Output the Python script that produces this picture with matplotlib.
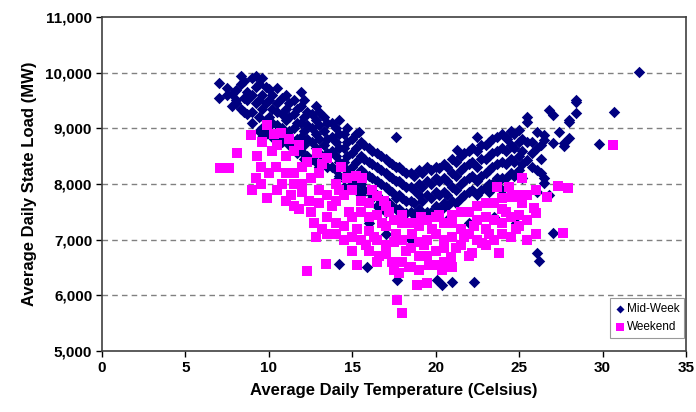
import matplotlib.pyplot as plt
from matplotlib.ticker import FuncFormatter

plt.rcParams['font.family'] = ['Liberation Sans', 'DejaVu Sans']

# values (temperature in C, load in MW)
midweek_temp = [
    7.0, 7.0, 7.5, 7.5, 8.0, 8.0, 8.0, 8.3, 8.3, 8.3, 8.7, 8.7, 8.7,
    9.0, 9.0, 9.0, 9.0, 9.2, 9.2, 9.2, 9.6, 9.6, 9.6, 9.6, 9.6,
    10.0, 10.0, 10.0, 10.0, 10.5, 10.5, 10.5, 10.5, 10.5,
    11.0, 11.0, 11.0, 11.0, 11.5, 11.5, 11.5, 11.5, 11.9, 11.9, 11.9, 11.9, 11.9,
    12.3, 12.3, 12.3, 12.3, 12.8, 12.8, 12.8, 12.8, 12.8,
    13.3, 13.3, 13.3, 13.3, 13.8, 13.8, 13.8, 13.8,
    14.2, 14.2, 14.2, 14.2, 14.2, 14.7, 14.7, 14.7, 14.7,
    15.2, 15.2, 15.2, 15.2, 15.2, 15.4, 15.7, 15.7, 15.7, 15.7,
    16.2, 16.2, 16.2, 16.2, 16.7, 16.7, 16.7, 16.7, 16.7,
    17.2, 17.2, 17.2, 17.2, 17.6, 17.6, 17.6, 17.6, 17.6,
    18.0, 18.0, 18.0, 18.0, 18.5, 18.5, 18.5, 18.5,
    19.0, 19.0, 19.0, 19.0, 19.5, 19.5, 19.5, 19.5,
    20.0, 20.0, 20.0, 20.0, 20.5, 20.5, 20.5, 20.5,
    21.0, 21.0, 21.0, 21.0, 21.3, 21.5, 21.5, 21.5, 21.5,
    22.0, 22.0, 22.0, 22.0, 22.5, 22.5, 22.5, 22.5, 22.5,
    23.0, 23.0, 23.0, 23.0, 23.4, 23.4, 23.4, 23.4,
    24.0, 24.0, 24.0, 24.0, 24.0, 24.3, 24.5, 24.5, 24.5, 24.5,
    25.0, 25.0, 25.0, 25.0, 25.5, 25.5, 25.5, 25.5,
    26.1, 26.1, 26.1, 26.1, 26.5, 26.5, 26.5, 26.5, 26.8, 26.8,
    27.0, 27.0, 27.4, 27.7, 27.7, 28.0, 28.0, 28.0, 28.4, 28.4, 28.4,
    29.8, 30.7, 32.2,
    14.2, 15.9, 17.7, 20.1, 20.4, 21.0, 22.3, 26.1, 26.2, 27.0,
    16.0, 17.0, 18.5, 22.0, 23.5, 24.8, 20.3, 20.7,
    7.8, 7.8, 8.5, 8.5, 8.5, 9.4, 9.4, 9.4, 9.4, 9.8, 9.8, 9.8, 9.8,
    10.2, 10.2, 10.2, 10.2, 10.8, 10.8, 10.8, 10.8, 11.2, 11.2, 11.2, 11.2,
    11.7, 11.7, 11.7, 11.7, 12.1, 12.1, 12.1, 12.1, 12.1,
    12.6, 12.6, 12.6, 12.6, 13.0, 13.0, 13.0, 13.0, 13.0,
    13.5, 13.5, 13.5, 13.5, 14.0, 14.0, 14.0, 14.0, 14.0,
    14.5, 14.5, 14.5, 14.5, 14.5, 15.0, 15.0, 15.0, 15.0,
    15.5, 15.5, 15.5, 15.5, 15.5, 16.0, 16.0, 16.0, 16.0, 16.0,
    16.5, 16.5, 16.5, 16.5, 16.5, 17.0, 17.0, 17.0, 17.0, 17.0,
    17.4, 17.4, 17.4, 17.4, 17.8, 17.8, 17.8, 17.8,
    18.2, 18.2, 18.2, 18.2, 18.7, 18.7, 18.7, 18.7,
    19.2, 19.2, 19.2, 19.2, 19.7, 19.7, 19.7, 19.7,
    20.2, 20.2, 20.2, 20.2, 20.7, 20.7, 20.7, 20.7,
    21.2, 21.2, 21.2, 21.2, 21.7, 21.7, 21.7, 21.7,
    22.2, 22.2, 22.2, 22.2, 22.7, 22.7, 22.7, 22.7,
    23.2, 23.2, 23.2, 23.2, 23.2, 23.7, 23.7, 23.7, 23.7,
    24.2, 24.2, 24.2, 24.2, 24.7, 24.7, 24.7, 24.7,
    25.2, 25.2, 25.2, 25.2, 25.8, 25.8, 25.8, 26.3, 26.3, 26.3,
]
midweek_load = [
    9820, 9550, 9730, 9600, 9500, 9680, 9450, 9940, 9800, 9350, 9650, 9500, 9250,
    9900, 9600, 9300, 9100, 9940, 9750, 9450, 9900, 9600, 9350, 9000, 8850,
    9700, 9500, 9200, 8950, 9730, 9450, 9300, 9050, 8800,
    9600, 9350, 9150, 8900, 9500, 9250, 9000, 8750, 9650, 9400, 9100, 8850, 8600,
    9300, 9050, 8800, 8500, 9400, 9150, 8900, 8650, 8400,
    9200, 8950, 8700, 8450, 9100, 8850, 8600, 8300,
    9150, 8900, 8650, 8400, 8150, 9000, 8750, 8500, 8250,
    8900, 8650, 8400, 8100, 7900, 8930, 8700, 8450, 8200, 7900,
    8600, 8350, 8100, 7800, 8500, 8250, 8000, 7700, 7550,
    8400, 8150, 7900, 7650, 8850, 8300, 8050, 7750, 7550,
    8250, 8000, 7750, 7500, 8200, 7950, 7700, 7500,
    8250, 8000, 7800, 7550, 8300, 8050, 7800, 7500,
    8300, 8100, 7850, 7600, 8350, 8100, 7850, 7650,
    8450, 8200, 7950, 7700, 8610, 8500, 8250, 8000, 7750,
    8600, 8350, 8100, 7850, 8850, 8600, 8300, 8050, 7800,
    8700, 8450, 8200, 7950, 8800, 8550, 8300, 8000,
    8900, 8650, 8400, 8100, 7900, 8800, 8950, 8700, 8450, 8200,
    8970, 8750, 8500, 8250, 9200, 9110, 8750, 8430,
    8930, 8650, 8250, 7860, 8880, 8790, 8110, 8020, 9330, 7800,
    9240, 8740, 8930, 8680, 8740, 9150, 8830, 9110, 9280, 9470, 9510,
    8720, 9300, 10010,
    6560, 6500, 6280, 6280, 6180, 6240, 6240, 6760, 6620, 7120,
    7300, 7100, 7000, 7300, 7400, 7300, 7530, 7350,
    9620, 9400, 9850, 9550, 9300, 9800, 9500, 9200, 8950, 9750, 9450, 9150, 8900,
    9600, 9350, 9100, 8850, 9550, 9250, 9000, 8750, 9450, 9200, 8950, 8700,
    9350, 9100, 8800, 8550, 9500, 9200, 8950, 8700, 8450,
    9250, 9000, 8750, 8450, 9300, 9050, 8800, 8550, 8300,
    9100, 8800, 8550, 8300, 9000, 8750, 8500, 8250, 8050,
    8900, 8650, 8400, 8150, 7950, 8800, 8550, 8300, 8000,
    8750, 8500, 8250, 8000, 7800, 8650, 8400, 8150, 7900, 7700,
    8550, 8300, 8050, 7800, 7600, 8450, 8200, 7950, 7700, 7500,
    8350, 8100, 7850, 7600, 8300, 8050, 7800, 7550,
    8200, 7950, 7700, 7480, 8150, 7900, 7650, 7450,
    8200, 7950, 7700, 7480, 8250, 8000, 7750, 7500,
    8280, 8050, 7800, 7550, 8300, 8050, 7800, 7600,
    8400, 8150, 7900, 7650, 8550, 8300, 8050, 7800,
    8650, 8400, 8150, 7900, 8700, 8450, 8150, 7900,
    8750, 8500, 8250, 8000, 7850, 8850, 8600, 8350, 8100,
    8850, 8600, 8350, 8100, 8900, 8650, 8400, 8150,
    8800, 8600, 8350, 8100, 8750, 8550, 8300, 8700, 8450, 8200,
]

weekend_temp = [
    7.1, 7.6, 8.1, 8.9, 9.0, 9.2, 9.3, 9.6, 9.9, 9.9, 10.2, 10.4, 10.7, 10.8,
    11.0, 11.3, 11.5, 11.8, 12.0, 12.3, 12.4, 12.7, 12.8, 12.9, 13.0, 13.2,
    13.4, 13.5, 13.5, 13.8, 14.0, 14.2, 14.5, 14.7, 14.8, 15.0, 15.3, 15.3,
    15.5, 15.6, 15.8, 16.0, 16.3, 16.5, 16.6, 16.8, 17.0, 17.2, 17.4, 17.6,
    17.7, 17.8, 18.0, 18.0, 18.2, 18.4, 18.6, 18.9, 19.0, 19.1, 19.3, 19.5,
    19.6, 19.8, 20.0, 20.2, 20.4, 20.5, 20.9, 21.0, 21.2, 21.5, 21.7, 22.0,
    22.2, 22.3, 22.5, 22.8, 23.0, 23.2, 23.5, 23.7, 23.8, 24.0, 24.2, 24.4,
    24.6, 24.8, 25.0, 25.2, 25.2, 25.5, 25.9, 26.0, 26.0, 26.7, 27.3, 27.6,
    27.9, 30.6,
    9.5, 9.5, 10.0, 10.5, 10.5, 11.0, 11.0, 11.5, 11.5, 11.5, 12.0, 12.0,
    12.5, 12.5, 13.0, 13.0, 13.5, 13.5, 14.0, 14.0, 14.0, 14.5, 14.5,
    15.0, 15.0, 15.0, 15.5, 15.5, 16.0, 16.0, 16.0, 16.5, 16.5, 16.5,
    17.0, 17.0, 17.0, 17.5, 17.5, 17.5, 18.0, 18.0, 18.0, 18.5, 18.5, 18.5,
    19.0, 19.0, 19.0, 19.5, 19.5, 19.5, 20.0, 20.0, 20.0, 20.5, 20.5, 20.5,
    21.0, 21.0, 21.0, 21.5, 21.5, 22.0, 22.0, 22.5, 22.5, 23.0, 23.0, 23.0,
    23.5, 23.5, 24.0, 24.0, 24.0, 24.5, 24.5, 25.0, 25.0, 25.5, 25.5, 26.0,
    10.3, 11.2, 11.8, 12.3, 13.2, 14.3, 15.2, 16.2, 16.9,
]
weekend_load = [
    8290, 8290, 8560, 8880, 7900, 8110, 8500, 8750, 9060, 7750, 8600, 8300, 8920, 8000,
    8500, 7800, 8200, 7550, 8000, 6440, 7700, 7300, 7050, 8560, 7900, 7200,
    6570, 8470, 7100, 7600, 7300, 7900, 7000, 8110, 7500, 6800, 6550, 7200,
    7700, 8110, 6900, 7400, 7050, 7790, 6700, 7300, 6900, 7500, 6600, 7100,
    5920, 6400, 5690, 7300, 6800, 6500, 7100, 6190, 6700, 7400, 6900, 6220,
    6550, 7200, 6800, 7450, 6460, 7000, 6690, 7300, 6850, 7500, 7050, 6700,
    6760, 7250, 7600, 6940, 7400, 7100, 7650, 7950, 6760, 7300, 7500, 7950,
    7770, 7200, 7450, 8110, 7660, 7000, 7570, 7480, 7100, 7770, 7960, 7120,
    7930, 8700,
    8300, 8000, 8200, 8700, 7900, 8200, 7700, 8600, 8000, 7600, 8300, 7850,
    8100, 7500, 8200, 7650, 7800, 7400, 8000, 7700, 7100, 7800, 7250,
    7900, 7400, 7050, 7500, 7000, 7650, 7150, 6800, 7450, 7000, 6600,
    7600, 7250, 6750, 7350, 6950, 6450, 7450, 7000, 6600, 7300, 6850, 6500,
    7250, 6950, 6450, 7350, 7000, 6700, 7400, 7100, 6550, 7300, 6850, 6600,
    7450, 7050, 6500, 7200, 6900, 7500, 7100, 7350, 7000, 7650, 7200, 6900,
    7350, 7000, 7750, 7550, 7100, 7400, 7050, 7800, 7250, 7800, 7350, 7900,
    8900, 8800, 8700, 8400, 8350, 8300, 8150, 7900, 7700,
]

x_ticks = [0, 5, 10, 15, 20, 25, 30, 35]
y_ticks = [5000, 6000, 7000, 8000, 9000, 10000, 11000]

fig = plt.figure(figsize=(6.96, 4.12), dpi=100)
ax = fig.add_axes([0.1466, 0.148, 0.839, 0.811])

for y in y_ticks[1:-1]:
    ax.axhline(y, color='#808080', lw=1, ls=(0, (4, 3)), zorder=0)

ax.scatter(midweek_temp, midweek_load, marker='D', s=34, color='#000080',
           linewidths=0, label='Mid-Week', zorder=2)
ax.scatter(weekend_temp, weekend_load, marker='s', s=60, color='#FF00FF',
           linewidths=0, label='Weekend', zorder=3)

ax.set_xlim(0, 35)
ax.set_ylim(5000, 11000)
ax.set_xticks(x_ticks)
ax.set_yticks(y_ticks)
ax.yaxis.set_major_formatter(FuncFormatter(lambda v, p: f'{int(v):,}'))
ax.tick_params(direction='out', length=4, width=1, labelsize=11, pad=3)
for lab in ax.get_xticklabels() + ax.get_yticklabels():
    lab.set_fontweight('bold')
for sp in ax.spines.values():
    sp.set_color('#404040')
    sp.set_linewidth(1.2)

ax.set_xlabel('Average Daily Temperature (Celsius)', fontsize=12,
              fontweight='bold', labelpad=6)
ax.set_ylabel('Average Daily State Load (MW)', fontsize=12,
              fontweight='bold', labelpad=6)

leg = ax.legend(loc='lower right', bbox_to_anchor=(0.997, 0.04),
                fontsize=8.5, frameon=True, fancybox=False, borderaxespad=0,
                handlelength=0.8, handletextpad=0.2, borderpad=0.4,
                labelspacing=0.5, markerscale=0.7)
leg.get_frame().set_edgecolor('#808080')
leg.get_frame().set_linewidth(0.8)

fig.savefig('out.png', dpi=100)
